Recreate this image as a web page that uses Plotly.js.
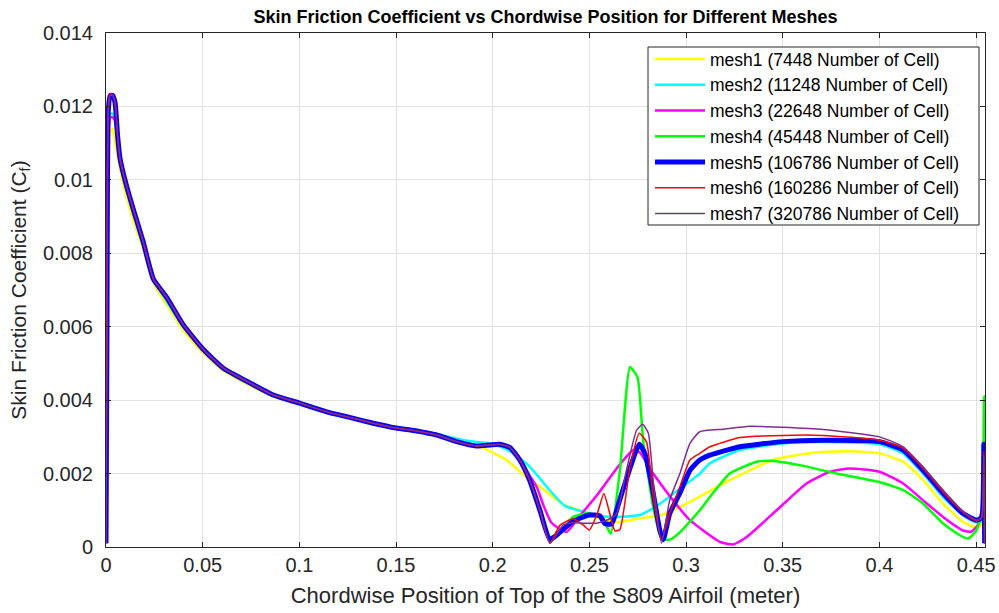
<!DOCTYPE html>
<html>
<head>
<meta charset="utf-8">
<script src="https://cdn.plot.ly/plotly-3.0.1.min.js"></script>
<style>html,body{margin:0;padding:0;background:#fff;}#chart{width:999px;height:613px;}</style>
</head>
<body>
<div id="chart"></div>
<script>
// ---- Data ----
const legendNames = [
  "mesh1 (7448 Number of Cell)",
  "mesh2 (11248 Number of Cell)",
  "mesh3 (22648 Number of Cell)",
  "mesh4 (45448 Number of Cell)",
  "mesh5 (106786 Number of Cell)",
  "mesh6 (160286 Number of Cell)",
  "mesh7 (320786 Number of Cell)"
];

const mesh1X = [0, 0.0005, 0.0012, 0.0022, 0.0035, 0.0048, 0.0072, 0.0098, 0.0141, 0.0193, 0.0245, 0.0314, 0.040, 0.050, 0.0607, 0.0744, 0.0865, 0.100, 0.1141, 0.126, 0.1382, 0.150, 0.1607, 0.171, 0.1813, 0.1900, 0.1950, 0.2072, 0.2175, 0.2244, 0.2373, 0.2500, 0.2571, 0.2658, 0.2760, 0.2865, 0.2916, 0.3020, 0.3226, 0.3449, 0.3675, 0.3847, 0.4000, 0.4123, 0.4226, 0.4329, 0.4433, 0.4493, 0.4528, 0.4540, 0.4544];
const mesh1Y = [0.0002, 0.0040, 0.0100, 0.0113, 0.0114, 0.0110, 0.0103, 0.0097, 0.0089, 0.0081, 0.0072, 0.0066, 0.0059, 0.0053, 0.0048, 0.0044, 0.0041, 0.0039, 0.00366, 0.00352, 0.00336, 0.00323, 0.00315, 0.00304, 0.00290, 0.00280, 0.00270, 0.00237, 0.00190, 0.00164, 0.00114, 0.00091, 0.00073, 0.00068, 0.00078, 0.00086, 0.00096, 0.00123, 0.00182, 0.00237, 0.00258, 0.00261, 0.00255, 0.00232, 0.00182, 0.00118, 0.00068, 0.00055, 0.0006, 0.0027, 0.0001];

const mesh2X = [0, 0.0004, 0.0012, 0.0022, 0.0035, 0.0047, 0.0060, 0.0072, 0.0098, 0.0141, 0.0193, 0.0245, 0.0314, 0.040, 0.050, 0.0607, 0.0744, 0.0865, 0.100, 0.1141, 0.126, 0.1382, 0.150, 0.1607, 0.171, 0.1813, 0.1917, 0.1986, 0.2072, 0.2175, 0.2244, 0.2279, 0.2373, 0.2468, 0.2537, 0.2623, 0.2760, 0.2865, 0.2968, 0.3071, 0.3123, 0.3278, 0.3500, 0.3709, 0.4000, 0.4123, 0.4226, 0.4329, 0.4433, 0.4493, 0.4528, 0.4540, 0.4544];
const mesh2Y = [0.0001, 0.0055, 0.0112, 0.0118, 0.0118, 0.0116, 0.0110, 0.0105, 0.0099, 0.0091, 0.0082, 0.0073, 0.0067, 0.00600, 0.0054, 0.00485, 0.00445, 0.00413, 0.00391, 0.00367, 0.00352, 0.00337, 0.00324, 0.00317, 0.00308, 0.00295, 0.00286, 0.00282, 0.00266, 0.00227, 0.00187, 0.00164, 0.00112, 0.00096, 0.00085, 0.00082, 0.00087, 0.00118, 0.00159, 0.00200, 0.00228, 0.00264, 0.00282, 0.00286, 0.00280, 0.00255, 0.00200, 0.00136, 0.00086, 0.00068, 0.0007, 0.0026, 0.0001];

const mesh3X = [0, 0.0004, 0.0012, 0.0022, 0.0035, 0.0047, 0.0060, 0.0072, 0.0098, 0.0141, 0.0193, 0.0245, 0.0314, 0.040, 0.050, 0.0607, 0.0744, 0.0865, 0.100, 0.1141, 0.126, 0.1382, 0.150, 0.1607, 0.171, 0.1813, 0.1917, 0.1986, 0.2037, 0.2089, 0.2140, 0.2190, 0.2227, 0.2265, 0.2304, 0.2382, 0.2451, 0.2546, 0.2641, 0.2727, 0.2760, 0.2830, 0.2933, 0.3020, 0.3175, 0.3244, 0.3313, 0.3468, 0.3623, 0.3743, 0.3847, 0.4000, 0.4123, 0.4226, 0.4329, 0.4433, 0.4476, 0.4510, 0.4540, 0.4544];
const mesh3Y = [0.0001, 0.0055, 0.0112, 0.0117, 0.0117, 0.0116, 0.0110, 0.0105, 0.0100, 0.0092, 0.0083, 0.0073, 0.0068, 0.00605, 0.0054, 0.00487, 0.00447, 0.00414, 0.00392, 0.00368, 0.00353, 0.00337, 0.00324, 0.00316, 0.00305, 0.00287, 0.00275, 0.00278, 0.0028, 0.00271, 0.00240, 0.00195, 0.00164, 0.00110, 0.00066, 0.00041, 0.00085, 0.00146, 0.00214, 0.00264, 0.00258, 0.00200, 0.00127, 0.00073, 0.00014, 0.00007, 0.00027, 0.00100, 0.00173, 0.00205, 0.00214, 0.00205, 0.00173, 0.00127, 0.00082, 0.00045, 0.00042, 0.0006, 0.0012, 0.0001];

const mesh4X = [0, 0.0004, 0.0012, 0.0022, 0.0035, 0.0047, 0.0060, 0.0072, 0.0098, 0.0141, 0.0193, 0.0245, 0.0314, 0.040, 0.050, 0.0607, 0.0744, 0.0865, 0.100, 0.1141, 0.126, 0.1382, 0.150, 0.1607, 0.171, 0.1813, 0.1917, 0.1986, 0.2037, 0.2089, 0.2140, 0.2190, 0.2244, 0.2296, 0.2347, 0.2416, 0.2500, 0.2571, 0.2610, 0.2658, 0.2710, 0.2749, 0.2778, 0.2830, 0.2873, 0.2916, 0.2968, 0.3071, 0.3123, 0.3226, 0.3365, 0.3433, 0.3588, 0.3778, 0.4000, 0.4123, 0.4226, 0.4329, 0.4416, 0.4459, 0.4502, 0.4530, 0.4541, 0.4544];
const mesh4Y = [0.0001, 0.0058, 0.0118, 0.0122, 0.0122, 0.0120, 0.0111, 0.0105, 0.0100, 0.0092, 0.0083, 0.0073, 0.0068, 0.00605, 0.0054, 0.00487, 0.00447, 0.00414, 0.00392, 0.00368, 0.00353, 0.00337, 0.00324, 0.00316, 0.00305, 0.00287, 0.00275, 0.00278, 0.0028, 0.00271, 0.00237, 0.00183, 0.0010, 0.00027, 0.00040, 0.00082, 0.00092, 0.00076, 0.00036, 0.00210, 0.00490, 0.00462, 0.00290, 0.00109, 0.00023, 0.00020, 0.00040, 0.00100, 0.00136, 0.00200, 0.00232, 0.00235, 0.00223, 0.00200, 0.00177, 0.00155, 0.00118, 0.00064, 0.00032, 0.00023, 0.00045, 0.0010, 0.0041, 0.0001];

const mesh5X = [0, 0.0005, 0.0012, 0.0022, 0.0035, 0.0047, 0.0060, 0.0072, 0.0098, 0.0141, 0.0193, 0.0245, 0.0314, 0.040, 0.050, 0.0607, 0.0744, 0.0865, 0.100, 0.1141, 0.126, 0.1382, 0.150, 0.1607, 0.171, 0.1813, 0.1917, 0.1986, 0.2037, 0.2089, 0.2140, 0.2190, 0.2244, 0.2296, 0.2347, 0.2416, 0.2500, 0.2554, 0.2580, 0.2615, 0.2658, 0.2710, 0.2758, 0.2787, 0.2822, 0.2865, 0.2882, 0.2916, 0.2968, 0.3020, 0.3071, 0.3123, 0.3278, 0.3500, 0.3709, 0.4000, 0.4123, 0.4226, 0.4329, 0.4433, 0.4502, 0.4528, 0.4540, 0.4544];
const mesh5Y = [0.0001, 0.0060, 0.0119, 0.0123, 0.0123, 0.0121, 0.0112, 0.0106, 0.0100, 0.0092, 0.0083, 0.0073, 0.0068, 0.00605, 0.0054, 0.00487, 0.00447, 0.00414, 0.00392, 0.00368, 0.00353, 0.00337, 0.00324, 0.00316, 0.00305, 0.00287, 0.00275, 0.00278, 0.0028, 0.00271, 0.00237, 0.00183, 0.0010, 0.0002, 0.00040, 0.00070, 0.00087, 0.00085, 0.00064, 0.00063, 0.00130, 0.00215, 0.00280, 0.00255, 0.00170, 0.00044, 0.00020, 0.00092, 0.00147, 0.00209, 0.00237, 0.00250, 0.00273, 0.00287, 0.00291, 0.00287, 0.00264, 0.00209, 0.00146, 0.00091, 0.00073, 0.0008, 0.0028, 0.0001];

const mesh6X = [0, 0.0005, 0.0012, 0.0022, 0.0035, 0.0047, 0.0060, 0.0072, 0.0098, 0.0141, 0.0193, 0.0245, 0.0314, 0.040, 0.050, 0.0607, 0.0744, 0.0865, 0.100, 0.1141, 0.126, 0.1382, 0.150, 0.1607, 0.171, 0.1813, 0.1917, 0.1986, 0.2037, 0.2089, 0.2140, 0.2190, 0.2244, 0.2296, 0.2347, 0.2416, 0.2468, 0.2500, 0.2540, 0.2575, 0.2606, 0.2632, 0.2658, 0.2710, 0.2758, 0.2796, 0.2830, 0.2873, 0.2916, 0.2968, 0.3020, 0.3071, 0.3123, 0.3278, 0.3500, 0.3709, 0.4000, 0.4123, 0.4226, 0.4329, 0.4433, 0.4502, 0.4528, 0.4540, 0.4544];
const mesh6Y = [0.0001, 0.0062, 0.0120, 0.01235, 0.0123, 0.0121, 0.0112, 0.0106, 0.0100, 0.0092, 0.0083, 0.0073, 0.0068, 0.00605, 0.0054, 0.00487, 0.00447, 0.00414, 0.00392, 0.00368, 0.00353, 0.00337, 0.00324, 0.00316, 0.00305, 0.00287, 0.00275, 0.00278, 0.0028, 0.00271, 0.00237, 0.00183, 0.0010, 0.0001, 0.00059, 0.00077, 0.00060, 0.00046, 0.00090, 0.00146, 0.00090, 0.00044, 0.00048, 0.00218, 0.00310, 0.00285, 0.00136, 0.00020, 0.00092, 0.00164, 0.00237, 0.00255, 0.00273, 0.00298, 0.00304, 0.00304, 0.00291, 0.00269, 0.00214, 0.00150, 0.00094, 0.00070, 0.0008, 0.0026, 0.0001];

const mesh7X = [0, 0.0005, 0.0012, 0.0022, 0.0035, 0.0047, 0.0060, 0.0072, 0.0098, 0.0141, 0.0193, 0.0245, 0.0314, 0.040, 0.050, 0.0607, 0.0744, 0.0865, 0.100, 0.1141, 0.126, 0.1382, 0.150, 0.1607, 0.171, 0.1813, 0.1917, 0.1986, 0.2037, 0.2089, 0.2140, 0.2190, 0.2244, 0.2296, 0.2365, 0.2416, 0.2468, 0.2537, 0.2589, 0.2640, 0.2692, 0.2744, 0.2775, 0.2805, 0.2830, 0.2873, 0.2916, 0.2968, 0.3020, 0.3071, 0.3192, 0.3330, 0.3500, 0.3709, 0.4000, 0.4123, 0.4226, 0.4329, 0.4433, 0.4502, 0.4528, 0.4540, 0.4544];
const mesh7Y = [0.0001, 0.0060, 0.0119, 0.0123, 0.0123, 0.0121, 0.0112, 0.0106, 0.0100, 0.0092, 0.0083, 0.0073, 0.0068, 0.00605, 0.0054, 0.00487, 0.00447, 0.00414, 0.00392, 0.00368, 0.00353, 0.00337, 0.00324, 0.00316, 0.00305, 0.00287, 0.00275, 0.00278, 0.0028, 0.00271, 0.00237, 0.00183, 0.0010, 0.0001, 0.00060, 0.00066, 0.00065, 0.00065, 0.00073, 0.00090, 0.00210, 0.00318, 0.00334, 0.00310, 0.00180, 0.00010, 0.00129, 0.00200, 0.00282, 0.00314, 0.00321, 0.00329, 0.00326, 0.00320, 0.00300, 0.00273, 0.00218, 0.00155, 0.00096, 0.00073, 0.0008, 0.0025, 0.0001];

const xTicks = [0, 0.05, 0.1, 0.15, 0.2, 0.25, 0.3, 0.35, 0.4, 0.45];
const yTicks = [0, 0.002, 0.004, 0.006, 0.008, 0.01, 0.012, 0.014];

// ---- Styling ----
const seriesX = [mesh1X, mesh2X, mesh3X, mesh4X, mesh5X, mesh6X, mesh7X];
const seriesY = [mesh1Y, mesh2Y, mesh3Y, mesh4Y, mesh5Y, mesh6Y, mesh7Y];
const colors = ["#ffff00", "#00ffff", "#ff00ff", "#00ff00", "#0000ff", "#ff0000", "#7e2f8e"];
const widths = [2.5, 2.5, 2.5, 2.5, 5, 1.5, 1.5];

const traces = seriesX.map((xs, i) => ({
  type: "scatter",
  mode: "lines",
  x: xs,
  y: seriesY[i],
  name: legendNames[i],
  line: {color: colors[i], width: widths[i], shape: "spline", smoothing: 0.5}
}));

const FONT = "'Liberation Sans', Arial, Helvetica, sans-serif";
const axisCommon = {
  showline: true, linecolor: "#262626", linewidth: 1, mirror: "ticks",
  ticks: "inside", ticklen: 5, tickcolor: "#262626", tickwidth: 1,
  showgrid: true, gridcolor: "#e2e2e2", gridwidth: 1, zeroline: false,
  tickfont: {family: FONT, size: 20, color: "#262626"}
};

// legend frame (pixel box 648..979 x 47..225 converted to paper coords)
const plotL = 106, plotW = 879, plotB = 547, plotH = 514;
const legendFrame = {
  type: "rect", xref: "paper", yref: "paper", layer: "above",
  x0: (648 - plotL) / plotW, x1: (979 - plotL) / plotW,
  y0: (plotB - 225) / plotH, y1: (plotB - 47) / plotH,
  line: {color: "#262626", width: 1}, fillcolor: "#ffffff"
};

const layout = {
  width: 999, height: 613,
  margin: {l: 106, r: 14, t: 33, b: 66},
  paper_bgcolor: "#ffffff", plot_bgcolor: "#ffffff",
  font: {family: FONT, color: "#262626"},
  title: {
    text: "<b>Skin Friction Coefficient vs Chordwise Position for Different Meshes</b>",
    font: {family: FONT, size: 18, color: "#000000"},
    xref: "paper", x: 0.5, xanchor: "center",
    yref: "container", y: 1 - 17/613, yanchor: "middle"
  },
  xaxis: Object.assign({}, axisCommon, {
    range: [0, 0.4546], tickvals: xTicks, ticktext: xTicks.map(String),
    title: {text: "Chordwise Position of Top of the S809 Airfoil (meter)", font: {family: FONT, size: 22, color: "#262626"}, standoff: 12}
  }),
  yaxis: Object.assign({}, axisCommon, {
    range: [0, 0.014], tickvals: yTicks, ticktext: yTicks.map(String),
    ticklabelstandoff: 8,
    title: {text: "Skin Friction Coefficient (C<sub>f</sub>)", font: {family: FONT, size: 21, color: "#262626"}, standoff: 10}
  }),
  shapes: [legendFrame],
  showlegend: true,
  legend: {
    x: (650 - plotL) / plotW, y: (plotB - 41) / plotH, xanchor: "left", yanchor: "top",
    bgcolor: "rgba(0,0,0,0)", borderwidth: 0,
    font: {family: FONT, size: 17.5, color: "#000000"},
    itemwidth: 50, tracegroupgap: 0
  }
};

Plotly.newPlot("chart", traces, layout, {displayModeBar: false, staticPlot: true});
</script>
</body>
</html>
